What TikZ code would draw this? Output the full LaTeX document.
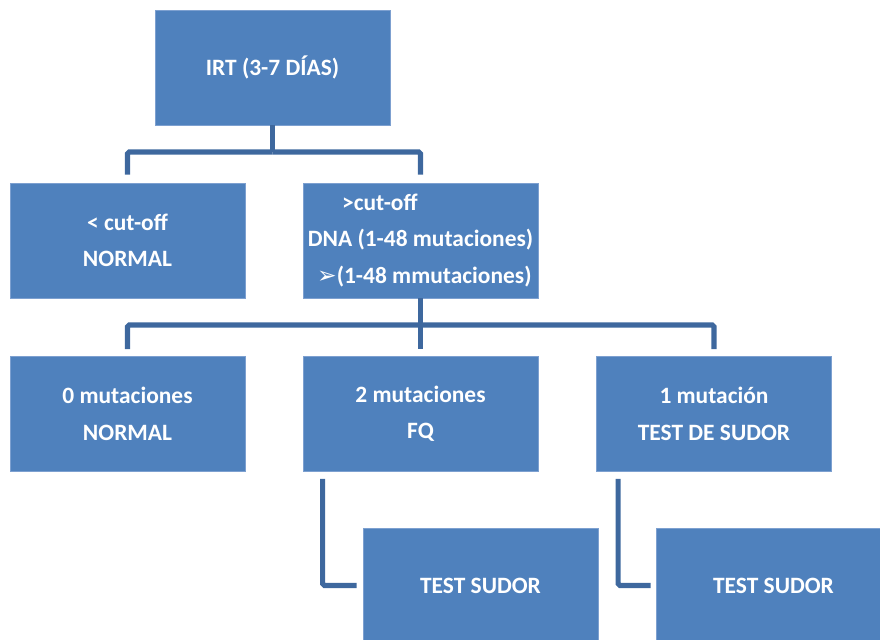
\documentclass[tikz,border=0pt]{standalone}
\usepackage{fontspec}
\setmainfont{Carlito}
\newfontfamily\dingfont{DejaVu Sans}
\definecolor{boxblue}{RGB}{79,129,189}
\definecolor{boxedge}{RGB}{125,160,208}
\definecolor{linkblue}{RGB}{62,104,158}
\begin{document}
\begin{tikzpicture}[x=0.03cm, y=-0.03cm,
    stage/.style={rectangle, fill=boxblue, draw=boxedge, line width=0.5pt,
        minimum width=7.05cm, minimum height=3.45cm, inner sep=0pt,
        text=white, align=center, font=\fontsize{20}{31}\selectfont\bfseries},
    link/.style={draw=linkblue, line width=4.3pt, rounded corners=1.5pt}]
    \clip (0,0) rectangle (880,639);

    % Screening
    \node[stage] (irt) at (272.5, 67.5) {IRT (3-7 DÍAS)};

    % Cut-off result
    \node[stage] (below) at (127.5, 240.5) {< cut-off\\NORMAL};
    \node[stage, align=left] (above) at (420.5, 240.5)
        {\hspace*{1.03cm}>cut-off\\DNA (1-48 mutaciones)\hspace*{0.3cm}\\\hspace*{0.28cm}{\dingfont\fontsize{20}{31}\selectfont ➢}(1-48 mmutaciones)};

    % Mutations found
    \node[stage] (zero) at (127.5, 414) {0 mutaciones\\NORMAL};
    \node[stage] (two) at (420.5, 414) {2 mutaciones\\FQ};
    \node[stage] (one) at (714, 414) {1 mutación\\TEST DE SUDOR};

    % Sweat test
    \node[stage] (sweatA) at (480.5, 585.5) {TEST SUDOR};
    \node[stage] (sweatB) at (773.5, 585.5) {TEST SUDOR};

    % Connectors
    \coordinate (busA) at (272.5, 152);
    \coordinate (busB) at (420.5, 325);
    \draw[link] (irt.south) -- (busA);
    \draw[link, shorten >=0.24cm] (busA) -| (below.north);
    \draw[link, shorten >=0.24cm] (busA) -| (above.north);
    \draw[link] (above.south) -- (busB);
    \foreach \target in {zero, two, one}
        \draw[link, shorten >=0.21cm] (busB) -| (\target.north);
    \draw[link] ([xshift=0.6cm, yshift=-0.21cm]two.south west) |- ([xshift=-0.18cm]sweatA.west);
    \draw[link] ([xshift=0.66cm, yshift=-0.21cm]one.south west) |- ([xshift=-0.15cm]sweatB.west);
\end{tikzpicture}
\end{document}
